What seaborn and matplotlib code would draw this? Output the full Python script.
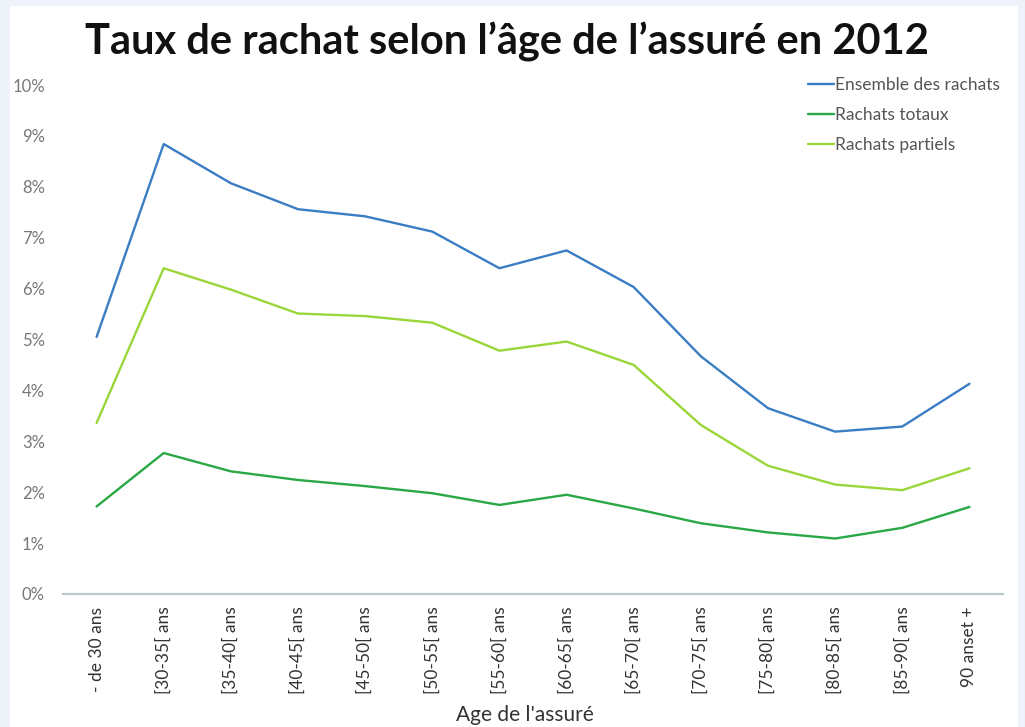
import pandas as pd
import seaborn as sns
import matplotlib.pyplot as plt
from matplotlib.patches import Rectangle
from matplotlib.ticker import FuncFormatter

ages = ['- de 30 ans', '[30-35[ ans', '[35-40[ ans', '[40-45[ ans', '[45-50[ ans',
        '[50-55[ ans', '[55-60[ ans', '[60-65[ ans', '[65-70[ ans', '[70-75[ ans',
        '[75-80[ ans', '[80-85[ ans', '[85-90[ ans', '90 anset +']
ensemble = [5.05, 8.84, 8.07, 7.56, 7.42, 7.12, 6.40, 6.75, 6.03, 4.67, 3.65, 3.19, 3.29, 4.13]
totaux = [1.72, 2.77, 2.41, 2.24, 2.12, 1.98, 1.75, 1.95, 1.68, 1.39, 1.21, 1.09, 1.30, 1.71]
partiels = [3.36, 6.40, 5.98, 5.51, 5.46, 5.33, 4.78, 4.96, 4.50, 3.32, 2.52, 2.15, 2.04, 2.47]

series = ['Ensemble des rachats', 'Rachats totaux', 'Rachats partiels']
colors = ['#3b7dc4', '#2aa845', '#9ad63a']

df = pd.DataFrame({
    'age': list(range(len(ages))) * 3,
    'taux': ensemble + totaux + partiels,
    'serie': [s for s in series for _ in ages],
})

sns.set_theme(style='white')
plt.rcParams['font.family'] = ['Lato', 'DejaVu Sans']

fig = plt.figure(figsize=(10.25, 7.27), dpi=100)
fig.patch.set_facecolor('#edf3f8')
fig.patches.append(Rectangle((10 / 1025, 0), 1008 / 1025, 721 / 727,
                             transform=fig.transFigure, facecolor='white',
                             edgecolor='none', zorder=-10))
ax = fig.add_axes([63 / 1025, 1 - 594 / 727, 940 / 1025, 509 / 727])
ax.set_facecolor('white')
ax.set_zorder(1)

sns.lineplot(data=df, x='age', y='taux', hue='serie', hue_order=series,
             palette=colors, linewidth=1.7, ax=ax)

ax.set_xlim(-0.5, len(ages) - 0.5)
ax.set_ylim(0, 10)
ax.set_yticks(range(0, 11))
ax.yaxis.set_major_formatter(FuncFormatter(lambda v, p: '%d%%' % v))
ax.set_xticks(range(len(ages)))
ax.set_xticklabels(ages, rotation=90, fontsize=12.5, color='#333333')
ax.tick_params(axis='y', labelsize=12, labelcolor='#777777', pad=13, length=0)
ax.tick_params(axis='x', pad=9, length=0)

for s in ['top', 'right', 'left']:
    ax.spines[s].set_visible(False)
ax.spines['bottom'].set_color('#b9c9cc')
ax.spines['bottom'].set_linewidth(1.6)

ax.set_xlabel("Age de l'assuré", fontsize=15, color='#333333', va='center')
ax.xaxis.set_label_coords(0.491, -0.238)
ax.set_ylabel('')

leg = ax.legend(loc='upper right', bbox_to_anchor=(0.997, 1.016), frameon=False,
                fontsize=12.5, handlelength=1.5, handletextpad=0.1, labelspacing=0.8,
                borderpad=0, borderaxespad=0)
for t in leg.get_texts():
    t.set_color('#555555')

fig.text(0.495, 0.942, "Taux de rachat selon l’âge de l’assuré en 2012",
         ha='center', va='center', fontsize=30, fontweight='bold', color='#111111')

fig.savefig('out.png', dpi=100, facecolor=fig.get_facecolor())
